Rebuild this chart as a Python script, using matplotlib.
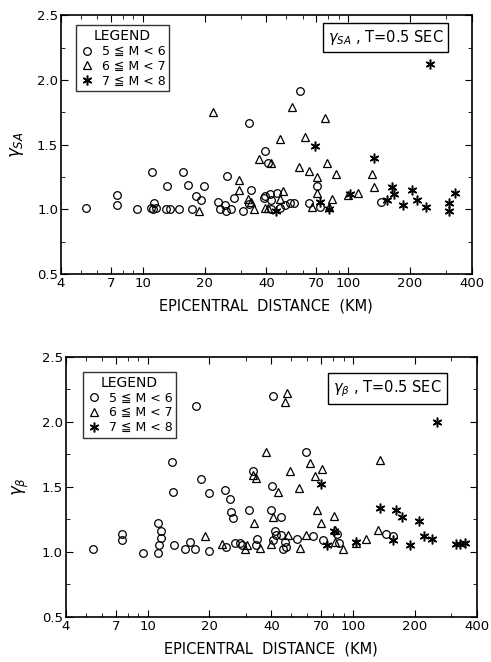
import numpy as np
import matplotlib.pyplot as plt
from matplotlib.lines import Line2D
from matplotlib.ticker import FixedLocator, NullFormatter

plt.rcParams['font.family'] = ['DejaVu Sans', 'Noto Sans CJK SC']
plt.rcParams['mathtext.fontset'] = 'dejavusans'

# ---- data: (distance km, ratio) ----
# upper panel: gamma_SA
sa_m5 = [(5.3, 1.01), (7.5, 1.11), (7.5, 1.03), (9.4, 1.00), (11.1, 1.29), (11.4, 1.05),
         (11.0, 1.01), (11.2, 1.00), (11.6, 1.01), (13.2, 1.18), (13.0, 1.00), (13.6, 1.00),
         (15.1, 1.00), (15.7, 1.29), (16.6, 1.19), (17.4, 1.00), (18.1, 1.10), (19.3, 1.07),
         (19.9, 1.18), (23.2, 1.06), (23.7, 1.00), (25.2, 1.03), (25.5, 0.99), (26.8, 1.00),
         (25.8, 1.26), (27.9, 1.09), (30.8, 0.99), (32.8, 1.04), (33.5, 1.15), (39.5, 1.45),
         (40.8, 1.36), (38.9, 1.09), (32.9, 1.67), (58.2, 1.915), (39.5, 1.10), (41.5, 1.12),
         (45.1, 1.13), (42.2, 1.07), (46.5, 1.01), (49.3, 1.03), (52.3, 1.05), (54.3, 1.05),
         (64.5, 1.05), (73.0, 1.02), (70.7, 1.18), (145, 1.06), (42.2, 1.00)]
sa_m6 = [(18.7, 0.99), (22.0, 1.75), (29.4, 1.23), (29.4, 1.15), (32.7, 1.08), (33.5, 1.06),
         (35.0, 1.00), (37.0, 1.39), (39.5, 1.01), (42.0, 1.36), (46.5, 1.54), (53.6, 1.79),
         (61.6, 1.56), (77.0, 1.705), (57.8, 1.33), (64.4, 1.30), (70.7, 1.25), (78.5, 1.36),
         (86.9, 1.27), (130, 1.27), (133.5, 1.17), (112, 1.13), (70.7, 1.13), (48.3, 1.14),
         (40.6, 1.01), (46.5, 1.08), (66.8, 1.02), (81.0, 1.02), (83.5, 1.08), (100, 1.11)]
sa_m7 = [(250, 2.125), (68.9, 1.49), (44.8, 0.99), (73.0, 1.06), (81.0, 1.00), (102, 1.12),
         (133.5, 1.40), (154, 1.07), (164, 1.17), (168, 1.12), (185, 1.03), (205, 1.15),
         (217, 1.07), (239, 1.02), (310, 1.05), (310, 0.99), (333, 1.13)]

# lower panel: gamma_beta
b_m5 = [(5.4, 1.02), (7.55, 1.14), (7.55, 1.09), (9.5, 0.99), (11.25, 1.22), (11.6, 1.16),
        (11.6, 1.11), (11.4, 1.05), (11.25, 0.99), (13.3, 1.46), (13.1, 1.695), (13.5, 1.05),
        (15.2, 1.02), (16.1, 1.08), (17.0, 1.02), (17.3, 2.12), (18.3, 1.56), (19.9, 1.45),
        (19.9, 1.01), (23.9, 1.48), (25.3, 1.41), (25.6, 1.31), (26.1, 1.26), (24.0, 1.04),
        (26.6, 1.07), (28.1, 1.07), (28.9, 1.05), (31.2, 1.32), (32.6, 1.625), (33.9, 1.10),
        (33.6, 1.05), (40.0, 1.32), (40.5, 1.51), (44.8, 1.27), (40.8, 2.20), (58.9, 1.77),
        (41.5, 1.16), (42.4, 1.13), (40.8, 1.09), (44.7, 1.13), (45.6, 1.02), (47.4, 1.04),
        (46.5, 1.08), (53.1, 1.10), (64.1, 1.12), (71.8, 1.09), (83.5, 1.14), (85.0, 1.07),
        (145, 1.14), (156, 1.12)]
b_m6 = [(19.1, 1.12), (22.9, 1.06), (29.8, 1.02), (33.0, 1.22), (33.6, 1.57), (32.6, 1.59),
        (35.3, 1.03), (37.6, 1.77), (47.7, 2.22), (46.5, 2.15), (61.6, 1.68), (71.0, 1.64),
        (65.0, 1.58), (49.2, 1.62), (135, 1.71), (43.2, 1.46), (54.6, 1.49), (41.0, 1.27),
        (66.8, 1.32), (70.2, 1.22), (80.6, 1.28), (81.6, 1.08), (89.4, 1.02), (103, 1.07),
        (115, 1.10), (132, 1.17), (40.0, 1.06), (48.3, 1.13), (55.2, 1.03), (58.9, 1.13),
        (82.0, 1.17), (30.5, 1.05)]
b_m7 = [(255, 2.00), (70.2, 1.52), (74.3, 1.05), (80.6, 1.16), (103, 1.08), (156, 1.09),
        (136, 1.34), (162, 1.32), (173, 1.27), (209, 1.24), (189, 1.05), (221, 1.12),
        (243, 1.10), (318, 1.06), (331, 1.06), (350, 1.07)]

xticks = [4, 7, 10, 20, 40, 70, 100, 200, 400]
xminor = [5, 6, 8, 9, 30, 50, 60, 80, 90, 300]
yticks = [0.5, 1.0, 1.5, 2.0, 2.5]
legend_labels = ['5 ≦ M < 6', '6 ≦ M < 7', '7 ≦ M < 8']

star = (6, 2, 0)
styles = [dict(marker='o', ms=5.5, mfc='none', mec='k', mew=0.9, ls='none'),
          dict(marker='^', ms=5.5, mfc='none', mec='k', mew=0.9, ls='none'),
          dict(marker=star, ms=7, mfc='k', mec='k', mew=1.1, ls='none')]


def panel(ax, groups, ylab, note, leg_anchor, note_xy):
    for pts, st in zip(groups, styles):
        d = [p[0] for p in pts]
        v = [p[1] for p in pts]
        ax.plot(d, v, **st)
    ax.set_xscale('log')
    ax.set_xlim(4, 400)
    ax.set_ylim(0.5, 2.5)
    ax.xaxis.set_major_locator(FixedLocator(xticks))
    ax.xaxis.set_minor_locator(FixedLocator(xminor))
    ax.xaxis.set_minor_formatter(NullFormatter())
    ax.set_xticklabels([str(t) for t in xticks])
    ax.set_yticks(yticks)
    ax.set_yticks([0.75, 1.25, 1.75, 2.25], minor=True)
    ax.set_yticklabels(['0.5', '1.0', '1.5', '2.0', '2.5'])
    ax.tick_params(which='both', direction='in', top=True, right=True, labelsize=9.5,
                   pad=2)
    ax.tick_params(which='major', length=5)
    ax.tick_params(which='minor', length=3)
    for s in ax.spines.values():
        s.set_linewidth(1.2)
    ax.set_xlabel('EPICENTRAL  DISTANCE  (KM)', fontsize=10.5, labelpad=6)
    ax.set_ylabel(ylab, fontsize=12, labelpad=8)

    handles = [Line2D([], [], **st) for st in styles]
    leg = ax.legend(handles, legend_labels, title='LEGEND', loc='upper left',
                    bbox_to_anchor=leg_anchor, frameon=True, fancybox=False,
                    edgecolor='k', fontsize=9, title_fontsize=10, handletextpad=0.6,
                    borderpad=0.3, labelspacing=0.15, handlelength=1.2,
                    borderaxespad=0)
    leg.get_frame().set_linewidth(1.0)
    ax.text(note_xy[0], note_xy[1], note, transform=ax.transAxes, ha='center',
            va='center', fontsize=10.5,
            bbox=dict(boxstyle='square,pad=0.35', fc='white', ec='k', lw=1.0))


fig = plt.figure(figsize=(4.91, 6.62), dpi=100)
ax1 = fig.add_axes([0.124, 0.586, 0.837, 0.391])
ax2 = fig.add_axes([0.134, 0.068, 0.837, 0.393])

panel(ax1, [sa_m5, sa_m6, sa_m7], r'$\gamma_{SA}$', r'$\gamma_{SA}$ , T=0.5 SEC',
      (0.036, 0.961), (0.79, 0.913))
panel(ax2, [b_m5, b_m6, b_m7], r'$\gamma_{\beta}$', r'$\gamma_{\beta}$ , T=0.5 SEC',
      (0.041, 0.942), (0.782, 0.879))

fig.savefig('out.png', dpi=100)
